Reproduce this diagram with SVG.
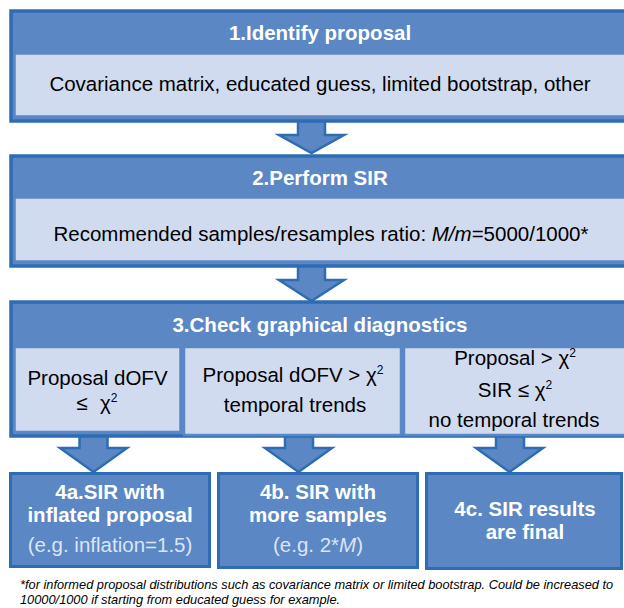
<svg xmlns="http://www.w3.org/2000/svg" width="624" height="608" viewBox="0 0 624 608">
<style>
.outer{fill:#5B87C4;stroke:#2E6DB4;stroke-width:3.5}
.body{fill:#D1DBEF;stroke:#5B87C4;stroke-width:2.5}
.sub{fill:#D1DBEF;stroke:#5B87C4;stroke-width:2.5}
.box4{fill:#5B87C4;stroke:#2E6DB4;stroke-width:3}
.arrow{fill:#5B87C4;stroke:#2E6DB4;stroke-width:2.5;stroke-linejoin:miter}
text{font-family:"Liberation Sans",Arial,sans-serif;font-size:20.5px;text-anchor:middle}
.hd{font-weight:bold;fill:#FFFFFF}
.tx{fill:#000000}
.lt{fill:#DCE4F2}
.sup{font-size:12px}
.fn{font-size:12.8px;font-style:italic;text-anchor:start;fill:#000000}
</style>
<rect x="0" y="0" width="624" height="608" fill="#FFFFFF"/>
<g id="connectors">
<polygon class="arrow" points="298,121 325,121 325,135 344,135 311.5,153 279,135 298,135"/>
<polygon class="arrow" points="298,266 325,266 325,280 344,280 311.5,301 279,280 298,280"/>
<polygon class="arrow" points="79.5,436 107.5,436 107.5,448 127,448 93.5,472 60,448 79.5,448"/>
<polygon class="arrow" points="285,436 313,436 313,448 332,448 298.5,472 265,448 285,448"/>
<polygon class="arrow" points="496,436 524,436 524,448 543,448 509.5,472 476,448 496,448"/>
</g>
<g id="node1">
<rect class="outer" x="11" y="11" width="620" height="110"/>
<rect class="body" x="14.5" y="53.5" width="620" height="63"/>
<text class="hd" x="320" y="40">1.Identify proposal</text>
<text class="tx" x="320" y="91">Covariance matrix, educated guess, limited bootstrap, other</text>
</g>
<g id="node2">
<rect class="outer" x="11" y="156" width="620" height="110"/>
<rect class="body" x="14.5" y="197.5" width="620" height="64"/>
<text class="hd" x="320" y="185">2.Perform SIR</text>
<text class="tx" x="321" y="241">Recommended samples/resamples ratio: <tspan font-style="italic">M/m</tspan>=5000/1000*</text>
</g>
<g id="node3">
<rect class="outer" x="11" y="302" width="620" height="134"/>
<text class="hd" x="320" y="332">3.Check graphical diagnostics</text>
</g>
<g id="node3a">
<rect class="sub" x="14.5" y="347" width="166" height="85"/>
<text class="tx" x="97.5" y="385">Proposal dOFV</text>
<text class="tx" x="82" y="410">≤</text>
<text class="tx" x="100" y="410" style="text-anchor:start">χ<tspan class="sup" dy="-8">2</tspan></text>
</g>
<g id="node3b">
<rect class="sub" x="184" y="347" width="217" height="88"/>
<text class="tx" x="293" y="382">Proposal dOFV &gt; χ<tspan class="sup" dy="-8">2</tspan></text>
<text class="tx" x="295" y="412">temporal trends</text>
</g>
<g id="node3c">
<rect class="sub" x="404" y="347" width="226" height="88"/>
<text class="tx" x="515" y="365">Proposal &gt; χ<tspan class="sup" dy="-8">2</tspan></text>
<text class="tx" x="515" y="397">SIR ≤ χ<tspan class="sup" dy="-8">2</tspan></text>
<text class="tx" x="514" y="427">no temporal trends</text>
</g>
<g id="node4a">
<rect class="box4" x="10.5" y="473.5" width="199" height="93"/>
<text class="hd" x="110" y="499">4a.SIR with</text>
<text class="hd" x="110" y="522">inflated proposal</text>
<text class="lt" x="110" y="552">(e.g. inflation=1.5)</text>
</g>
<g id="node4b">
<rect class="box4" x="218.5" y="473.5" width="199" height="94"/>
<text class="hd" x="318" y="499">4b. SIR with</text>
<text class="hd" x="318" y="522">more samples</text>
<text class="lt" x="318" y="552">(e.g. 2*<tspan font-style="italic">M</tspan>)</text>
</g>
<g id="node4c">
<rect class="box4" x="426.5" y="473.5" width="195" height="95"/>
<text class="hd" x="525" y="516">4c. SIR results</text>
<text class="hd" x="525" y="539">are final</text>
</g>
<g id="footnote">
<text class="fn" x="20" y="589">*for informed proposal distributions such as covariance matrix or limited bootstrap. Could be increased to</text>
<text class="fn" x="20" y="604">10000/1000 if starting from educated guess for example.</text>
</g>
</svg>
